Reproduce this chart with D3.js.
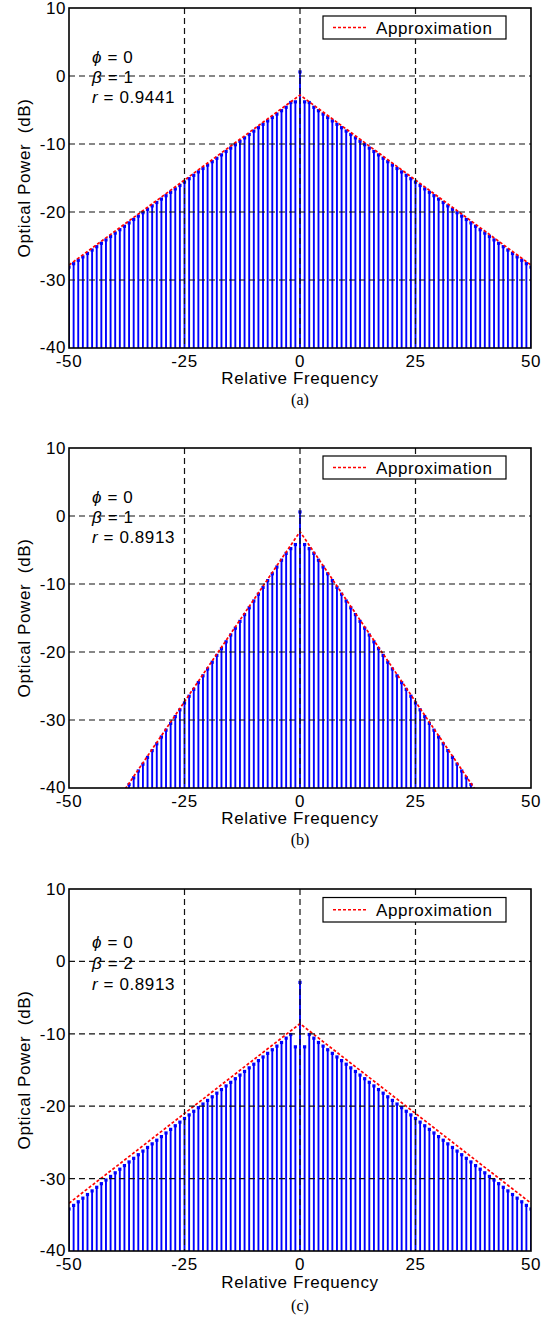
<!DOCTYPE html>
<html>
<head>
<meta charset="utf-8">
<script src="https://cdn.jsdelivr.net/npm/d3@7"></script>
<style>
  html, body { margin: 0; padding: 0; background: #fff; }
  svg { display: block; }
  .sans { font-family: "Liberation Sans", Arial, Helvetica, sans-serif; letter-spacing: 0.6px; }
</style>
</head>
<body>
<svg id="chart" width="552" height="1327"></svg>
<script>
// ---------- DATA ----------
const freq = [-50,-49,-48,-47,-46,-45,-44,-43,-42,-41,-40,-39,-38,-37,-36,-35,-34,-33,-32,-31,
  -30,-29,-28,-27,-26,-25,-24,-23,-22,-21,-20,-19,-18,-17,-16,-15,-14,-13,-12,-11,
  -10,-9,-8,-7,-6,-5,-4,-3,-2,-1,0,1,2,3,4,5,6,7,8,9,10,11,12,13,14,15,16,17,18,19,20,
  21,22,23,24,25,26,27,28,29,30,31,32,33,34,35,36,37,38,39,40,41,42,43,44,45,46,47,48,49,50];

const powerA = [
  -28.1,-27.6,-27.1,-26.6,-26.1,-25.6,-25.1,-24.6,-24.1,-23.6,
  -23.1,-22.6,-22.1,-21.6,-21.1,-20.6,-20.1,-19.6,-19.1,-18.6,
  -18.1,-17.6,-17.1,-16.6,-16.1,-15.6,-15.1,-14.6,-14.1,-13.6,
  -13.1,-12.6,-12.1,-11.6,-11.1,-10.6,-10.1,-9.6,-9.1,-8.6,
  -8.1,-7.6,-7.1,-6.6,-6.1,-5.6,-5.1,-4.6,-3.9,-3.8,
  0.6,
  -3.8,-3.9,-4.6,-5.1,-5.6,-6.1,-6.6,-7.1,-7.6,-8.1,
  -8.6,-9.1,-9.6,-10.1,-10.6,-11.1,-11.6,-12.1,-12.6,-13.1,
  -13.6,-14.1,-14.6,-15.1,-15.6,-16.1,-16.6,-17.1,-17.6,-18.1,
  -18.6,-19.1,-19.6,-20.1,-20.6,-21.1,-21.6,-22.1,-22.6,-23.1,
  -23.6,-24.1,-24.6,-25.1,-25.6,-26.1,-26.6,-27.1,-27.6,-28.1];

const powerB = [
  -52.5,-51.5,-50.5,-49.5,-48.5,-47.5,-46.5,-45.5,-44.5,-43.5,
  -42.5,-41.5,-40.5,-39.5,-38.5,-37.5,-36.5,-35.5,-34.5,-33.5,
  -32.5,-31.5,-30.5,-29.5,-28.5,-27.5,-26.5,-25.5,-24.5,-23.5,
  -22.5,-21.5,-20.5,-19.5,-18.5,-17.5,-16.5,-15.5,-14.5,-13.5,
  -12.5,-11.5,-10.5,-9.5,-8.5,-7.5,-6.5,-5.5,-4.8,-4.2,
  0.6,
  -4.2,-4.8,-5.5,-6.5,-7.5,-8.5,-9.5,-10.5,-11.5,-12.5,
  -13.5,-14.5,-15.5,-16.5,-17.5,-18.5,-19.5,-20.5,-21.5,-22.5,
  -23.5,-24.5,-25.5,-26.5,-27.5,-28.5,-29.5,-30.5,-31.5,-32.5,
  -33.5,-34.5,-35.5,-36.5,-37.5,-38.5,-39.5,-40.5,-41.5,-42.5,
  -43.5,-44.5,-45.5,-46.5,-47.5,-48.5,-49.5,-50.5,-51.5,-52.5];

const powerC = [
  -34.2,-33.7,-33.2,-32.7,-32.2,-31.7,-31.2,-30.7,-30.2,-29.7,
  -29.2,-28.7,-28.2,-27.7,-27.2,-26.7,-26.2,-25.7,-25.2,-24.7,
  -24.2,-23.7,-23.2,-22.7,-22.2,-21.7,-21.2,-20.7,-20.2,-19.7,
  -19.2,-18.7,-18.2,-17.7,-17.2,-16.7,-16.2,-15.7,-15.2,-14.7,
  -14.2,-13.7,-13.2,-12.7,-12.2,-11.7,-11.2,-10.6,-10.1,-11.8,
  -2.9,
  -11.8,-10.1,-10.6,-11.2,-11.7,-12.2,-12.7,-13.2,-13.7,-14.2,
  -14.7,-15.2,-15.7,-16.2,-16.7,-17.2,-17.7,-18.2,-18.7,-19.2,
  -19.7,-20.2,-20.7,-21.2,-21.7,-22.2,-22.7,-23.2,-23.7,-24.2,
  -24.7,-25.2,-25.7,-26.2,-26.7,-27.2,-27.7,-28.2,-28.7,-29.2,
  -29.7,-30.2,-30.7,-31.2,-31.7,-32.2,-32.7,-33.2,-33.7,-34.2];

// Approximation lines (triangle vertices)
const approxFreq = [-50, 0, 50];
const approxA = [-27.8, -2.8, -27.8];
const approxB = [-52.3, -2.3, -52.3];
const approxC = [-33.4, -8.6, -33.4];

const xTicks = [-50, -25, 0, 25, 50];
const yTicks = [10, 0, -10, -20, -30, -40];
const gridX = [-25, 0, 25];
const gridY = [0, -10, -20, -30];

const panelLabels = ["(a)", "(b)", "(c)"];
const phiText = ["0", "0", "0"];
const betaText = ["1", "1", "2"];
const rText = ["0.9441", "0.8913", "0.8913"];

const xLabel = "Relative Frequency";
const yLabel = "Optical Power\u00A0\u00A0(dB)";
const legendLabel = "Approximation";

// ---------- LAYOUT ----------
const panels = [
  { top: 8,   bottom: 348,  values: powerA, approx: approxA },
  { top: 448, bottom: 788,  values: powerB, approx: approxB },
  { top: 889, bottom: 1251, values: powerC, approx: approxC }
];
const left = 69, right = 531;

const svg = d3.select("#chart");
const FS = 17;

panels.forEach((p, i) => {
  const x = d3.scaleLinear().domain([-50, 50]).range([left, right]);
  const y = d3.scaleLinear().domain([-40, 10]).range([p.bottom, p.top]);
  const g = svg.append("g");
  const k = (p.bottom - p.top) / 340;

  const clipId = "clip" + i;
  svg.append("clipPath").attr("id", clipId)
    .append("rect").attr("x", left).attr("y", p.top)
    .attr("width", right - left).attr("height", p.bottom - p.top);

  const data = freq.map((f, j) => ({ f, v: p.values[j] }));
  const plot = g.append("g").attr("clip-path", `url(#${clipId})`);

  // stems
  plot.selectAll("line.stem").data(data).enter().append("line")
    .attr("class", "stem")
    .attr("x1", d => x(d.f)).attr("x2", d => x(d.f))
    .attr("y1", y(-40)).attr("y2", d => y(d.v))
    .attr("stroke", "#0000ff").attr("stroke-width", 1.9);

  // markers
  plot.selectAll("rect.mk").data(data).enter().append("rect")
    .attr("class", "mk")
    .attr("x", d => x(d.f) - 1.6).attr("y", d => y(d.v) - 1.6)
    .attr("width", 3.2).attr("height", 3.2)
    .attr("fill", "#0000ff");

  // approximation
  const lineGen = d3.line().x(d => x(d[0])).y(d => y(d[1]));
  plot.append("path")
    .datum(approxFreq.map((f, j) => [f, p.approx[j]]))
    .attr("d", lineGen)
    .attr("fill", "none").attr("stroke", "#ff0000")
    .attr("stroke-width", 1.7).attr("stroke-dasharray", "3,2");

  // grid
  g.selectAll("line.gx").data(gridX).enter().append("line")
    .attr("x1", d => x(d)).attr("x2", d => x(d))
    .attr("y1", p.top).attr("y2", p.bottom)
    .attr("stroke", "#111").attr("stroke-width", 1.2).attr("stroke-dasharray", "6,4");
  g.selectAll("line.gy").data(gridY).enter().append("line")
    .attr("x1", left).attr("x2", right)
    .attr("y1", d => y(d)).attr("y2", d => y(d))
    .attr("stroke", "#111").attr("stroke-width", 1.2).attr("stroke-dasharray", "6,4");

  // axes box
  g.append("rect").attr("x", left).attr("y", p.top)
    .attr("width", right - left).attr("height", p.bottom - p.top)
    .attr("fill", "none").attr("stroke", "#000").attr("stroke-width", 1.6);

  // x tick labels
  g.selectAll("text.xt").data(xTicks).enter().append("text")
    .attr("class", "sans")
    .attr("x", d => x(d)).attr("y", p.bottom + 19)
    .attr("text-anchor", "middle").attr("font-size", FS).attr("fill", "#000")
    .text(d => d);

  // y tick labels
  g.selectAll("text.yt").data(yTicks).enter().append("text")
    .attr("class", "sans")
    .attr("x", left - 3).attr("y", d => y(d) + (d === -40 ? 5 : 6))
    .attr("text-anchor", "end").attr("font-size", FS).attr("fill", "#000")
    .text(d => d);

  // x label
  g.append("text").attr("class", "sans")
    .attr("x", (left + right) / 2).attr("y", p.bottom + 36 * (i === 2 ? 1.04 : 1))
    .attr("text-anchor", "middle").attr("font-size", FS).text(xLabel);

  // y label
  const cy = (p.top + p.bottom) / 2;
  g.append("text").attr("class", "sans")
    .attr("transform", `translate(30,${cy}) rotate(-90)`)
    .attr("text-anchor", "middle").attr("font-size", FS).text(yLabel);

  // panel label
  g.append("text")
    .attr("x", (left + right) / 2).attr("y", p.bottom + 57 + (i === 2 ? 3 : 0))
    .attr("text-anchor", "middle")
    .attr("font-family", "'Liberation Serif', 'Times New Roman', serif")
    .attr("font-size", 16).text(panelLabels[i]);

  // annotations
  const ax = 92;
  const t1 = g.append("text").attr("class", "sans").attr("x", ax).attr("y", p.top + 55 * k).attr("font-size", FS);
  t1.append("tspan").attr("font-style", "italic").text("\u03D5");
  t1.append("tspan").text(" = " + phiText[i]);
  const t2 = g.append("text").attr("class", "sans").attr("x", ax).attr("y", p.top + 75 * k).attr("font-size", FS);
  t2.append("tspan").attr("font-style", "italic").text("\u03B2");
  t2.append("tspan").text(" = " + betaText[i]);
  const t3 = g.append("text").attr("class", "sans").attr("x", ax).attr("y", p.top + 95 * k).attr("font-size", FS);
  t3.append("tspan").attr("font-style", "italic").text("r");
  t3.append("tspan").text(" = " + rText[i]);

  // legend
  const lx = 323, lw = 183, ly = p.top + 8 * k, lh = 23 * k;
  g.append("rect").attr("x", lx).attr("y", ly).attr("width", lw).attr("height", lh)
    .attr("fill", "#fff").attr("stroke", "#000").attr("stroke-width", 1.2);
  g.append("line").attr("x1", 333).attr("x2", 366)
    .attr("y1", ly + lh / 2).attr("y2", ly + lh / 2)
    .attr("stroke", "#ff0000").attr("stroke-width", 1.7).attr("stroke-dasharray", "3,2");
  g.append("text").attr("class", "sans")
    .attr("x", 376).attr("y", ly + lh / 2 + 6)
    .attr("font-size", FS).text(legendLabel);
});
</script>
</body>
</html>
